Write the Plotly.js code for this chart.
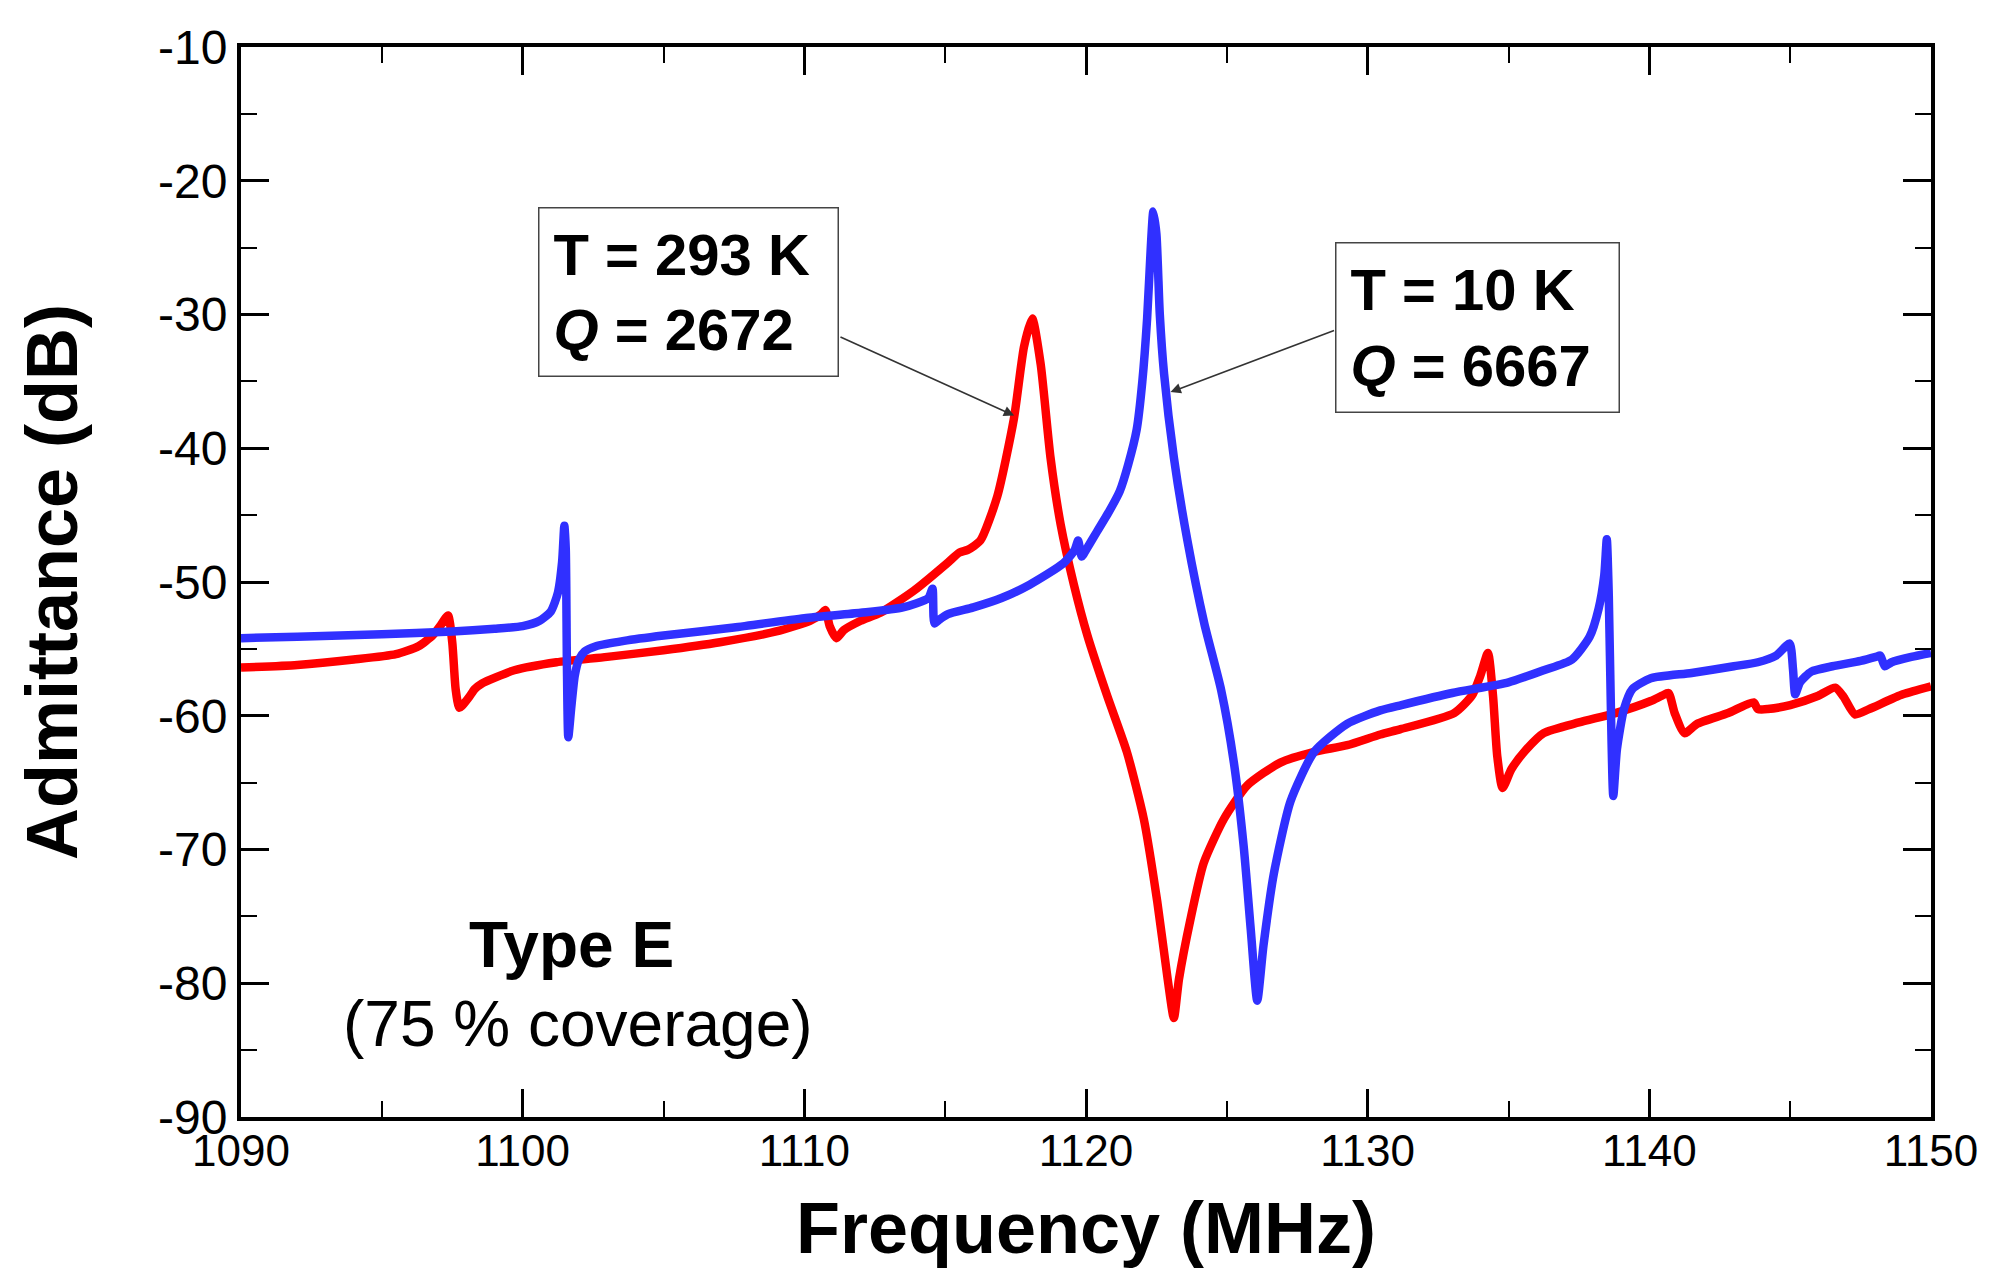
<!DOCTYPE html>
<html>
<head>
<meta charset="utf-8">
<script src="https://cdn.plot.ly/plotly-3.0.1.min.js"></script>
<style>
  html, body { margin: 0; padding: 0; background: #ffffff; }
  #chart { width: 2008px; height: 1286px; }
</style>
</head>
<body>
<div id="chart"></div>
<script>
// ---- Data ----
const blueName = "T = 10 K";
const blueFreq = [1090, 1092, 1095, 1097.5, 1099, 1100, 1100.6, 1101.0, 1101.25, 1101.4, 1101.48, 1101.53, 1101.57, 1101.62, 1101.72, 1101.85, 1102.0, 1102.2, 1102.6, 1103.6, 1105, 1107.5, 1110, 1112, 1113.5, 1114.4, 1114.55, 1114.62, 1114.8, 1115.1, 1116, 1117, 1118, 1119.2, 1119.6, 1119.72, 1119.85, 1120.0, 1120.4, 1120.8, 1121.2, 1121.5, 1121.8, 1122.0, 1122.17, 1122.3, 1122.39, 1122.5, 1122.62, 1122.77, 1123.12, 1123.6, 1124.2, 1124.8, 1125.25, 1125.6, 1125.85, 1126.08, 1126.3, 1126.67, 1127.26, 1128.1, 1129.27, 1130.45, 1131.2, 1133, 1135, 1136.25, 1137.25, 1137.88, 1138.2, 1138.4, 1138.49, 1138.56, 1138.64, 1138.72, 1138.85, 1139.1, 1139.4, 1140.05, 1141.5, 1143, 1143.85, 1144.5, 1144.98, 1145.1, 1145.18, 1145.35, 1145.75, 1146.5, 1147.5, 1148.04, 1148.2, 1148.36, 1148.6, 1149.3, 1150];
const blueAdm  = [-54.2, -54.1, -53.9, -53.7, -53.5, -53.3, -52.9, -52.2, -50.8, -48.5, -45.8, -47.5, -56, -61.6, -59.5, -57.0, -55.8, -55.2, -54.8, -54.4, -54.0, -53.4, -52.7, -52.3, -51.9, -51.2, -50.5, -53.1, -52.8, -52.4, -51.9, -51.2, -50.2, -48.6, -47.6, -46.9, -48.1, -47.6, -46.2, -44.8, -43.2, -41.2, -38.6, -35, -30.3, -25, -22.3, -24, -30, -34.4, -40.7, -46.9, -53.1, -58.1, -63.5, -69.8, -76, -81.3, -77.2, -71.8, -66.4, -62.7, -60.6, -59.6, -59.2, -58.3, -57.5, -56.6, -55.8, -54.1, -52.0, -49.5, -46.8, -51, -60, -66.0, -62.5, -59.5, -58.0, -57.2, -56.8, -56.3, -56.0, -55.5, -54.6, -56.5, -58.4, -57.5, -56.7, -56.3, -55.9, -55.6, -55.5, -56.3, -56.0, -55.6, -55.3];

const redName = "T = 293 K";
const redFreq = [1090, 1092, 1094, 1095.5, 1096.3, 1096.8, 1097.1, 1097.35, 1097.5, 1097.62, 1097.75, 1097.95, 1098.1, 1098.3, 1098.55, 1098.85, 1099.7, 1101.2, 1103, 1105, 1107, 1109, 1110.2, 1110.6, 1110.75, 1110.9, 1111.14, 1111.4, 1112, 1112.7, 1113.89, 1115.07, 1115.5, 1115.8, 1116.25, 1116.85, 1117.44, 1117.8, 1118.09, 1118.39, 1118.74, 1119.1, 1119.57, 1120.05, 1120.75, 1121.45, 1122.05, 1122.53, 1122.9, 1123.12, 1123.3, 1123.71, 1124.18, 1124.9, 1125.73, 1126.9, 1128.1, 1129.27, 1130.45, 1131.17, 1133.07, 1133.7, 1134.0, 1134.27, 1134.45, 1134.6, 1134.79, 1135.1, 1135.6, 1136.25, 1137.5, 1138.8, 1140.05, 1140.45, 1140.68, 1140.9, 1141.25, 1141.7, 1142.8, 1143.7, 1143.85, 1144.2, 1145, 1146, 1146.6, 1146.9, 1147.3, 1147.8, 1149, 1150];
const redAdm  = [-56.4, -56.2, -55.8, -55.4, -54.8, -54.0, -53.2, -52.5, -54.5, -58, -59.4, -59.0, -58.6, -58.0, -57.6, -57.3, -56.6, -56.0, -55.6, -55.1, -54.5, -53.7, -52.9, -52.4, -52.1, -53.3, -54.2, -53.6, -52.9, -52.3, -50.65, -48.6, -47.8, -47.6, -46.9, -43.6, -37.8, -32.4, -30.3, -33.7, -40.7, -45.7, -50.2, -54.0, -58.5, -62.7, -67.7, -73.9, -79.7, -82.6, -79.7, -75.2, -71.0, -67.7, -65.2, -63.5, -62.7, -62.2, -61.4, -61.0, -59.8, -58.5, -57.0, -55.3, -58.5, -63, -65.4, -64.0, -62.6, -61.3, -60.5, -59.8, -58.9, -58.5, -58.3, -59.8, -61.3, -60.6, -59.8, -59.0, -59.5, -59.5, -59.2, -58.5, -57.9, -58.6, -59.9, -59.5, -58.4, -57.8];

const xTickVals = [1090, 1100, 1110, 1120, 1130, 1140, 1150];
const yTickVals = [-90, -80, -70, -60, -50, -40, -30, -20, -10];

const xTitle = "Frequency (MHz)";
const yTitle = "Admittance (dB)";
const label293 = ["T = 293 K", "Q = 2672"];
const label10 = ["T = 10 K", "Q = 6667"];
const typeLabel = ["Type E", "(75 % coverage)"];

// ---- Chart ----
const FONT = "Liberation Sans, Arial, Helvetica, sans-serif";

const traces = [
  { x: redFreq, y: redAdm, name: redName, type: "scatter", mode: "lines",
    line: { color: "#ff0000", width: 8.5, shape: "spline", smoothing: 0.6 } },
  { x: blueFreq, y: blueAdm, name: blueName, type: "scatter", mode: "lines",
    line: { color: "#3030ff", width: 8.5, shape: "spline", smoothing: 0.6 } }
];

const axisCommon = {
  showgrid: false, zeroline: false, showline: true, linecolor: "#000", linewidth: 4,
  mirror: "ticks", ticks: "inside", ticklen: 28, tickwidth: 3, tickcolor: "#000",
  minor: { ticks: "inside", ticklen: 16, tickwidth: 2, tickcolor: "#000", dtick: 5 }
};

function qLine(s) { return "<b><i>" + s.charAt(0) + "</i>" + s.slice(1) + "</b>"; }

const layout = {
  width: 2008, height: 1286,
  paper_bgcolor: "#fff", plot_bgcolor: "#fff",
  margin: { l: 241, r: 77, t: 47, b: 169 },
  showlegend: false,
  xaxis: Object.assign({}, axisCommon, {
    range: [1090, 1150], tickvals: xTickVals, ticktext: xTickVals.map(String),
    tickfont: { family: FONT, size: 44, color: "#000" },
    ticklabelstandoff: -8,
    title: { text: "<b>" + xTitle + "</b>", font: { family: FONT, size: 72, color: "#000" }, standoff: 30 }
  }),
  yaxis: Object.assign({}, axisCommon, {
    range: [-90, -10], tickvals: yTickVals, ticktext: yTickVals.map(String),
    tickfont: { family: FONT, size: 48, color: "#000" },
    title: { text: "<b>" + yTitle + "</b>", font: { family: FONT, size: 72, color: "#000" }, standoff: 58 }
  }),
  annotations: [
    { xref: "x", yref: "y", x: 1105.89, y: -28.28, showarrow: false,
      text: "<b>" + label293[0] + "</b><br>" + qLine(label293[1]),
      align: "left", xanchor: "center", yanchor: "middle",
      width: 270, height: 139, borderpad: 14, borderwidth: 1.5, bordercolor: "#444", bgcolor: "#fff",
      font: { family: FONT, size: 58, color: "#000" } },
    { xref: "x", yref: "y", x: 1133.91, y: -31.0, showarrow: false,
      text: "<b>" + label10[0] + "</b><br>" + qLine(label10[1]),
      align: "left", xanchor: "center", yanchor: "middle",
      width: 254, height: 140, borderpad: 14, borderwidth: 1.5, bordercolor: "#444", bgcolor: "#fff",
      font: { family: FONT, size: 58, color: "#000" } },
    { xref: "x", yref: "y", x: 1117.45, y: -37.56, axref: "x", ayref: "y", ax: 1111.23, ay: -31.63,
      text: "", showarrow: true, arrowhead: 2, arrowsize: 1.3, arrowwidth: 1.6, arrowcolor: "#333", standoff: 0 },
    { xref: "x", yref: "y", x: 1123.0, y: -35.8, axref: "x", ayref: "y", ax: 1128.86, ay: -31.15,
      text: "", showarrow: true, arrowhead: 2, arrowsize: 1.3, arrowwidth: 1.6, arrowcolor: "#333", standoff: 0 },
    { xref: "x", yref: "y", x: 1101.72, y: -77.14, showarrow: false,
      text: "<b>" + typeLabel[0] + "</b>", xanchor: "center", yanchor: "middle",
      font: { family: FONT, size: 64, color: "#000" } },
    { xref: "x", yref: "y", x: 1101.98, y: -83.05, showarrow: false,
      text: typeLabel[1], xanchor: "center", yanchor: "middle",
      font: { family: FONT, size: 64, color: "#000" } }
  ]
};

Plotly.newPlot("chart", traces, layout, { staticPlot: true, displayModeBar: false });
</script>
</body>
</html>
